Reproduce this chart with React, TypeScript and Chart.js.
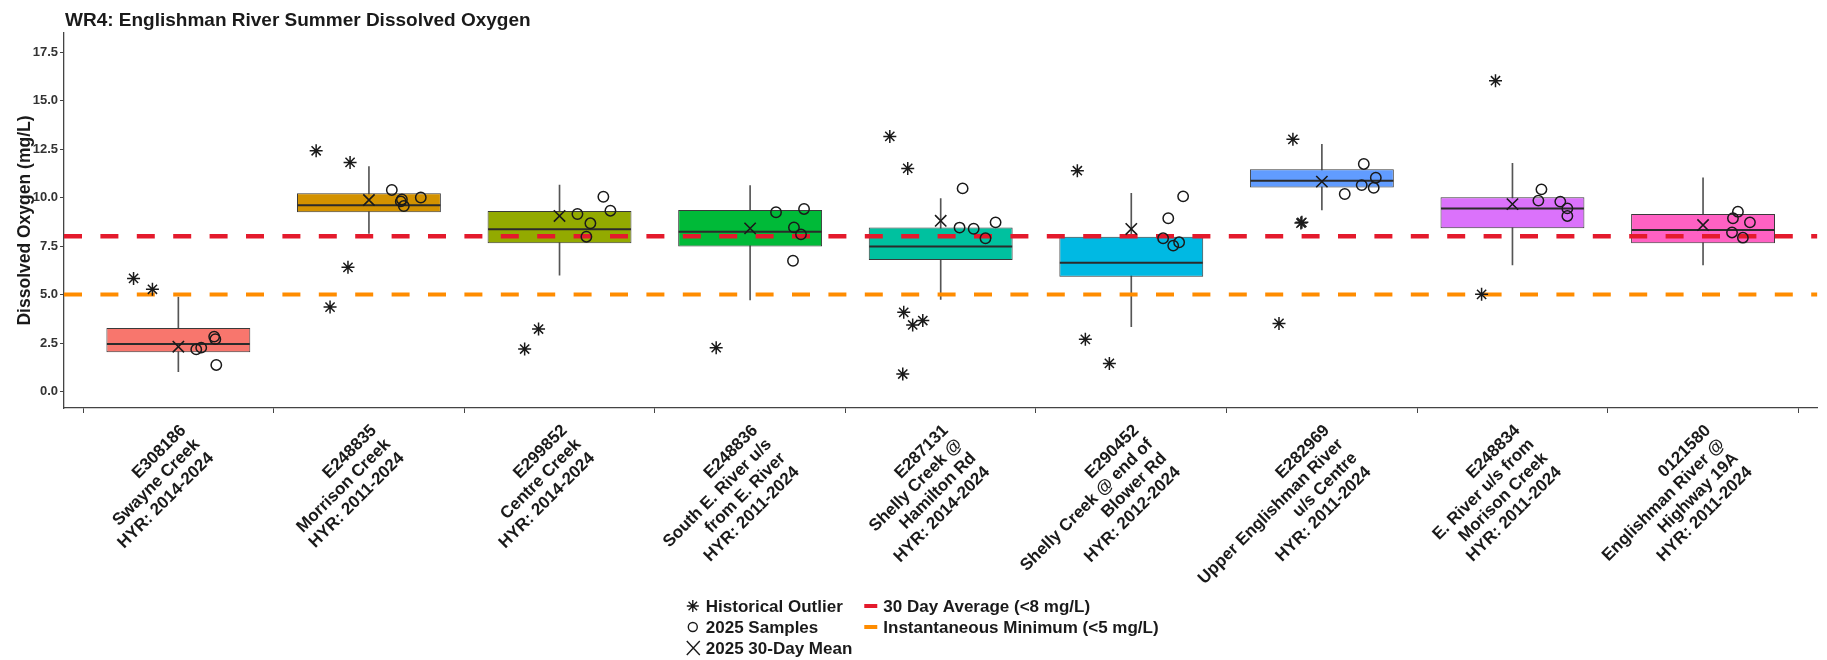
import React, { useEffect, useRef } from 'react';
import { Chart, registerables } from 'chart.js';

Chart.register(...registerables);

const FONT = '"Liberation Sans", Arial, Helvetica, sans-serif';
Chart.defaults.font.family = FONT;

const titleText = 'WR4: Englishman River Summer Dissolved Oxygen';
const yAxisTitle = 'Dissolved Oxygen (mg/L)';

const siteLabels: string[][] = [
  ['E308186', 'Swayne Creek', 'HYR: 2014-2024'],
  ['E248835', 'Morrison Creek', 'HYR: 2011-2024'],
  ['E299852', 'Centre Creek', 'HYR: 2014-2024'],
  ['E248836', 'South E. River u/s', 'from E. River', 'HYR: 2011-2024'],
  ['E287131', 'Shelly Creek @', 'Hamilton Rd', 'HYR: 2014-2024'],
  ['E290452', 'Shelly Creek @ end of', 'Blower Rd', 'HYR: 2012-2024'],
  ['E282969', 'Upper Englishman River', 'u/s Centre', 'HYR: 2011-2024'],
  ['E248834', 'E. River u/s from', 'Morison Creek', 'HYR: 2011-2024'],
  ['0121580', 'Englishman River @', 'Highway 19A', 'HYR: 2011-2024'],
];

const boxColors = ['#F8766D', '#D39200', '#93AA00', '#00BA38', '#00C19F', '#00B9E3', '#619CFF', '#DB72FB', '#FF61C3'];

// Historical box statistics (mg/L)
const whiskerLow = [1.02, 8.15, 6.0, 4.72, 4.75, 3.34, 9.36, 6.52, 6.52];
const q1 = [2.03, 9.24, 7.64, 7.47, 6.78, 5.92, 10.52, 8.41, 7.64];
const medians = [2.45, 9.6, 8.37, 8.24, 7.47, 6.64, 10.87, 9.44, 8.32];
const q3 = [3.28, 10.22, 9.3, 9.36, 8.45, 7.98, 11.46, 10.01, 9.15];
const whiskerHigh = [4.87, 11.6, 10.64, 10.61, 9.94, 10.22, 12.74, 11.76, 11.02];

// 2025 30-day means
const means2025 = [2.31, 9.87, 9.05, 8.41, 8.8, 8.38, 10.82, 9.66, 8.58];

// Historical outliers: site index, horizontal jitter (category units), value
const outlierSite = [0, 0, 1, 1, 1, 1, 2, 2, 3, 4, 4, 4, 4, 4, 4, 5, 5, 5, 6, 6, 6, 6, 7, 7];
const outlierJitter = [-0.235, -0.136, -0.277, -0.099, -0.11, -0.204, -0.11, -0.183, -0.178, -0.267, -0.173, -0.194, -0.147, -0.094, -0.199, -0.283, -0.241, -0.115, -0.152, -0.105, -0.11, -0.225, -0.089, -0.162];
const outlierValue = [5.83, 5.27, 12.41, 11.81, 6.4, 4.35, 3.22, 2.19, 2.26, 13.15, 11.5, 4.08, 3.43, 3.66, 0.9, 11.38, 2.69, 1.45, 13.0, 8.72, 8.68, 3.51, 16.02, 5.01];

// 2025 samples: site index, horizontal jitter (category units), value
const sampleSite = [0, 0, 0, 0, 0, 1, 1, 1, 1, 1, 2, 2, 2, 2, 2, 3, 3, 3, 3, 3, 4, 4, 4, 4, 4, 5, 5, 5, 5, 5, 6, 6, 6, 6, 6, 7, 7, 7, 7, 7, 8, 8, 8, 8, 8];
const sampleJitter = [0.094, 0.12, 0.188, 0.194, 0.199, 0.12, 0.167, 0.173, 0.183, 0.272, 0.094, 0.23, 0.267, 0.162, 0.141, 0.136, 0.283, 0.23, 0.267, 0.225, 0.115, 0.099, 0.173, 0.288, 0.235, 0.272, 0.194, 0.167, 0.22, 0.251, 0.22, 0.283, 0.209, 0.272, 0.12, 0.152, 0.136, 0.251, 0.288, 0.288, 0.183, 0.157, 0.246, 0.152, 0.209];
const sampleValue = [2.17, 2.26, 2.83, 2.7, 1.37, 10.39, 9.8, 9.9, 9.56, 10.0, 9.15, 10.04, 9.32, 8.67, 7.98, 9.24, 9.41, 8.46, 8.1, 6.74, 10.47, 8.45, 8.39, 8.72, 7.9, 10.06, 8.93, 7.9, 7.52, 7.69, 11.73, 11.02, 10.64, 10.5, 10.18, 10.42, 9.84, 9.79, 9.44, 9.05, 9.27, 8.93, 8.72, 8.2, 7.93];

// Guideline thresholds
const thresholdValues = [8, 5];
const thresholdLabels = ['30 Day Average (<8 mg/L)', 'Instantaneous Minimum (<5 mg/L)'];
const thresholdColors = ['#E41A2C', '#FF8C00'];

const yTicks = [0, 2.5, 5, 7.5, 10, 12.5, 15, 17.5];
const yMin = -0.85;
const yMax = 18.48;
const xMin = -0.6;
const xMax = siteLabels.length - 1 + 0.6;
const BOX_FRACTION = 0.755;

const INK = '#1a1a1a';

function drawAsterisk(ctx: CanvasRenderingContext2D, x: number, y: number, r: number) {
  ctx.beginPath();
  for (let k = 0; k < 4; k++) {
    const a = (k * Math.PI) / 4;
    ctx.moveTo(x - Math.cos(a) * r, y - Math.sin(a) * r);
    ctx.lineTo(x + Math.cos(a) * r, y + Math.sin(a) * r);
  }
  ctx.stroke();
}

const overlayPlugin = {
  id: 'overlay',
  afterDraw(chart: any) {
    const { ctx, chartArea } = chart;
    ctx.save();
    // Title
    ctx.font = `bold 19px ${FONT}`;
    ctx.fillStyle = INK;
    ctx.textAlign = 'left';
    ctx.textBaseline = 'alphabetic';
    ctx.fillText(titleText, chartArea.left + 1, 26);

    // Legend
    ctx.font = `bold 17px ${FONT}`;
    const col1 = ['Historical Outlier', '2025 Samples', '2025 30-Day Mean'];
    const col1W = Math.max(...col1.map((t) => ctx.measureText(t).width));
    const col2W = Math.max(...thresholdLabels.map((t) => ctx.measureText(t).width));
    const iconW = 13;
    const total = iconW + 6 + col1W + 12 + iconW + 6 + col2W;
    const cx = (chartArea.left + chartArea.right) / 2 - 18;
    const left = cx - total / 2;
    const col2Left = left + iconW + 6 + col1W + 12;
    const rowY = (i: number) => chart.height - 54 + i * 21;
    ctx.textBaseline = 'middle';
    ctx.strokeStyle = INK;
    ctx.fillStyle = INK;
    ctx.lineWidth = 1.4;
    drawAsterisk(ctx, left + 6, rowY(0), 6);
    ctx.beginPath();
    ctx.arc(left + 6, rowY(1), 4.5, 0, Math.PI * 2);
    ctx.stroke();
    ctx.beginPath();
    ctx.moveTo(left, rowY(2) - 7);
    ctx.lineTo(left + 13, rowY(2) + 7);
    ctx.moveTo(left + 13, rowY(2) - 7);
    ctx.lineTo(left, rowY(2) + 7);
    ctx.stroke();
    col1.forEach((t, i) => ctx.fillText(t, left + iconW + 6, rowY(i) + 1));
    thresholdLabels.forEach((t, i) => {
      ctx.fillStyle = thresholdColors[i];
      ctx.fillRect(col2Left, rowY(i) - 2, iconW, 4);
      ctx.fillStyle = INK;
      ctx.fillText(t, col2Left + iconW + 6, rowY(i) + 1);
    });
    ctx.restore();
  },
};

export default function App() {
  const canvasRef = useRef<HTMLCanvasElement | null>(null);

  useEffect(() => {
    if (!canvasRef.current) return;

    const whiskerData = siteLabels.map((_, i) => ({ x: i, y: [whiskerLow[i], whiskerHigh[i]] }));
    const boxData = siteLabels.map((_, i) => ({ x: i, y: [q1[i], q3[i]] }));
    const medianData = siteLabels.map((_, i) => ({ x: i, y: medians[i] }));
    const meanData = siteLabels.map((_, i) => ({ x: i, y: means2025[i] }));
    const outlierData = outlierValue.map((v, k) => ({ x: outlierSite[k] + outlierJitter[k], y: v }));
    const sampleData = sampleValue.map((v, k) => ({ x: sampleSite[k] + sampleJitter[k], y: v }));

    const axisColor = '#444';

    const chart = new Chart(canvasRef.current, {
      type: 'scatter',
      data: {
        datasets: [
          {
            type: 'scatter',
            label: '2025 30-Day Mean',
            data: meanData,
            pointStyle: 'crossRot',
            radius: 8,
            borderColor: INK,
            borderWidth: 1.6,
            order: 0,
          } as any,
          {
            type: 'scatter',
            label: '2025 Samples',
            data: sampleData,
            pointStyle: 'circle',
            radius: 5.2,
            borderColor: INK,
            backgroundColor: 'rgba(0,0,0,0)',
            borderWidth: 1.5,
            order: 1,
          } as any,
          {
            type: 'scatter',
            label: 'Historical Outlier',
            data: outlierData,
            pointStyle: 'star',
            radius: 6.5,
            borderColor: INK,
            borderWidth: 1.5,
            order: 2,
          } as any,
          ...thresholdValues.map((tv, i) => ({
            type: 'line',
            label: thresholdLabels[i],
            data: [
              { x: xMin, y: tv },
              { x: xMax, y: tv },
            ],
            borderColor: thresholdColors[i],
            borderWidth: i === 0 ? 4.6 : 4.2,
            borderDash: [18, 18.4],
            borderCapStyle: 'butt',
            pointRadius: 0,
            showLine: true,
            order: 3,
          })) as any[],
          {
            type: 'scatter',
            label: 'median',
            data: medianData,
            pointStyle: 'line',
            radius: (c: any) => {
              const s = c.chart.scales.x;
              return ((s.getPixelForValue(1) - s.getPixelForValue(0)) * BOX_FRACTION) / 2 - 0.5;
            },
            borderColor: '#2b2b2b',
            borderWidth: 2,
            order: 4,
          } as any,
          {
            type: 'bar',
            label: 'box',
            data: boxData,
            backgroundColor: boxColors,
            borderColor: '#3a3a3a',
            borderWidth: 1,
            borderSkipped: false,
            grouped: false,
            categoryPercentage: BOX_FRACTION,
            barPercentage: 1,
            order: 5,
          } as any,
          {
            type: 'bar',
            label: 'whisker',
            data: whiskerData,
            backgroundColor: '#555',
            borderWidth: 0,
            grouped: false,
            barThickness: 1,
            maxBarThickness: 1,
            order: 6,
          } as any,
        ],
      },
      options: {
        animation: false,
        responsive: true,
        maintainAspectRatio: false,
        events: [],
        layout: { padding: { top: 33, right: 3, bottom: 0, left: 0 } },
        plugins: {
          legend: { display: false },
          tooltip: { enabled: false },
          title: { display: false },
        },
        scales: {
          x: {
            type: 'linear',
            min: xMin,
            max: xMax,
            offset: false,
            afterBuildTicks: (axis: any) => {
              axis.ticks = siteLabels.map((_, i) => ({ value: i }));
            },
            afterFit: (axis: any) => {
              axis.height = 252;
            },
            ticks: {
              autoSkip: false,
              minRotation: 45,
              maxRotation: 45,
              padding: 8,
              labelOffset: 5,
              color: INK,
              font: { size: 17, weight: 'bold', lineHeight: 1.15 },
              callback: (v: any) => siteLabels[Math.round(v)] ?? '',
            },
            grid: { display: true, drawOnChartArea: false, drawTicks: true, tickLength: 5, color: axisColor },
            border: { display: true, color: axisColor, width: 1.3 },
          },
          y: {
            type: 'linear',
            min: yMin,
            max: yMax,
            afterBuildTicks: (axis: any) => {
              axis.ticks = yTicks.map((v) => ({ value: v }));
            },
            afterFit: (axis: any) => {
              axis.width = 64;
            },
            ticks: {
              padding: 2,
              color: '#333',
              font: { size: 13, weight: 'bold' },
              callback: (v: any) => Number(v).toFixed(1),
            },
            grid: { display: true, drawOnChartArea: false, drawTicks: true, tickLength: 4, color: axisColor },
            border: { display: true, color: axisColor, width: 1.3 },
            title: {
              display: true,
              text: yAxisTitle,
              color: INK,
              font: { size: 17.5, weight: 'bold' },
              padding: { top: 15, bottom: 0 },
            },
          },
        },
      } as any,
      plugins: [overlayPlugin],
    });

    return () => {
      chart.destroy();
    };
  }, []);

  return (
    <div style={{ position: 'absolute', left: 0, top: 0, width: 1827, height: 660, background: '#fff' }}>
      <canvas ref={canvasRef} />
    </div>
  );
}
